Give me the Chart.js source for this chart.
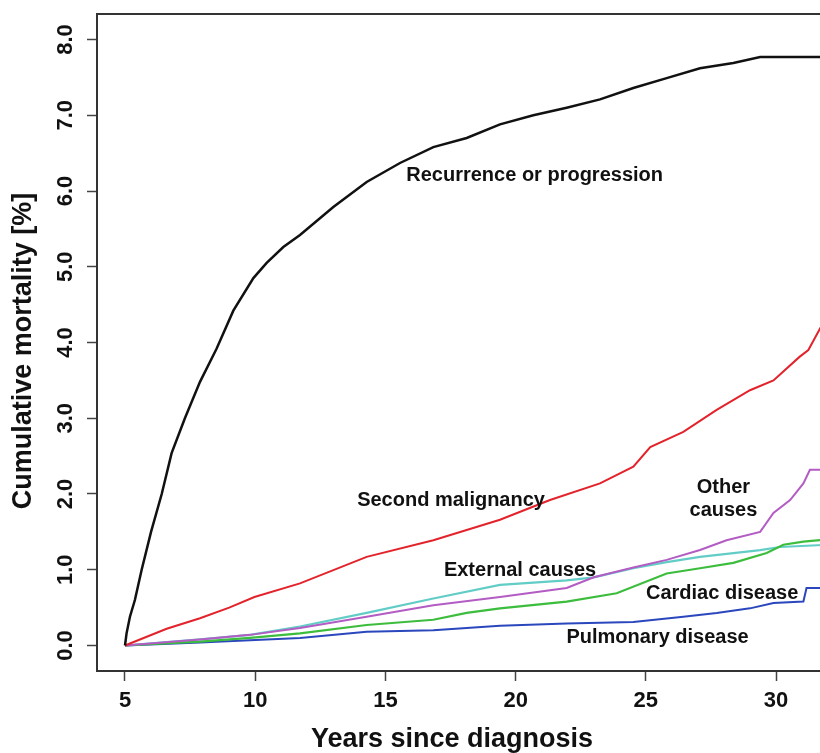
<!DOCTYPE html>
<html>
<head>
<meta charset="utf-8">
<script src="https://cdn.jsdelivr.net/npm/chart.js@4"></script>
<style>
  html, body { margin: 0; padding: 0; background: #fff; overflow: hidden; }
  canvas { display: block; }
</style>
</head>
<body>
<canvas id="mortalityChart" width="870" height="753"></canvas>
<script>
// Values (years since diagnosis, cumulative mortality %)
const recurrenceX = [5, 5.06, 5.19, 5.38, 5.64, 6.0, 6.41, 6.79, 7.3, 7.88, 8.52, 9.16, 9.93, 10.44, 11.08, 11.72, 13.0, 14.28, 15.56, 16.84, 18.12, 19.4, 20.68, 21.96, 23.24, 24.52, 25.8, 27.08, 28.36, 29.39, 32];
const recurrenceY = [0, 0.16, 0.38, 0.6, 1.0, 1.5, 2.0, 2.54, 3.0, 3.48, 3.92, 4.42, 4.85, 5.05, 5.26, 5.42, 5.79, 6.12, 6.37, 6.58, 6.7, 6.88, 7.0, 7.1, 7.21, 7.36, 7.49, 7.62, 7.69, 7.77, 7.77];

const secondX = [5, 6.6, 7.88, 9.0, 9.97, 11.72, 14.28, 16.84, 19.4, 21.32, 23.24, 24.52, 25.17, 26.44, 27.72, 29.0, 29.9, 30.9, 31.24, 31.7, 32];
const secondY = [0, 0.22, 0.36, 0.5, 0.64, 0.82, 1.17, 1.39, 1.66, 1.92, 2.14, 2.36, 2.62, 2.82, 3.11, 3.37, 3.5, 3.81, 3.9, 4.19, 4.19];

const otherX = [5, 7.88, 9.8, 11.72, 14.28, 16.84, 19.4, 21.96, 23.0, 24.52, 25.8, 27.08, 28.1, 29.39, 29.9, 30.54, 31.05, 31.3, 32];
const otherY = [0, 0.08, 0.14, 0.23, 0.38, 0.53, 0.64, 0.76, 0.9, 1.03, 1.13, 1.26, 1.39, 1.5, 1.75, 1.92, 2.14, 2.32, 2.32];

const externalX = [5, 7.88, 9.8, 11.72, 14.28, 16.84, 19.4, 21.96, 23.0, 24.52, 25.8, 27.08, 29.39, 30.15, 32];
const externalY = [0, 0.08, 0.14, 0.25, 0.43, 0.62, 0.8, 0.86, 0.9, 1.02, 1.1, 1.17, 1.26, 1.3, 1.33];

const cardiacX = [5, 7.88, 9.8, 11.72, 14.28, 16.84, 18.12, 19.4, 21.96, 23.88, 25.8, 27.08, 28.36, 29.64, 30.28, 31.05, 32];
const cardiacY = [0, 0.05, 0.1, 0.16, 0.27, 0.34, 0.43, 0.49, 0.58, 0.69, 0.95, 1.02, 1.09, 1.22, 1.33, 1.37, 1.4];

const pulmonaryX = [5, 7.88, 9.8, 11.72, 14.28, 16.84, 19.4, 21.96, 24.52, 26.44, 27.72, 29.0, 29.9, 31.05, 31.17, 32];
const pulmonaryY = [0, 0.04, 0.07, 0.1, 0.18, 0.2, 0.26, 0.29, 0.31, 0.38, 0.43, 0.49, 0.56, 0.58, 0.76, 0.76];

const xTicks = [5, 10, 15, 20, 25, 30];
const yTicks = [0, 1, 2, 3, 4, 5, 6, 7, 8];

// curve labels placed in data coordinates
const labelText = ['Recurrence or progression', 'Second malignancy', 'External causes', 'Other', 'causes', 'Cardiac disease', 'Pulmonary disease'];
const labelX = [20.73, 17.52, 20.17, 27.98, 27.98, 27.93, 25.45];
const labelY = [6.2, 1.92, 0.99, 2.09, 1.78, 0.69, 0.1];

const fontFamily = "'Liberation Sans', Arial, Helvetica, sans-serif";

function toPoints(xs, ys) {
  return xs.map((x, i) => ({ x: x, y: ys[i] }));
}

function series(data, color, width) {
  return {
    data: data,
    borderColor: color,
    borderWidth: width,
    pointRadius: 0,
    fill: false,
    tension: 0
  };
}

const extrasPlugin = {
  id: 'extras',
  afterDraw(chart) {
    const ctx = chart.ctx;
    const area = chart.chartArea;
    const xs = chart.scales.x;
    const ys = chart.scales.y;
    ctx.save();
    // box around plot region
    ctx.strokeStyle = '#333';
    ctx.lineWidth = 2;
    ctx.strokeRect(area.left, area.top, area.right - area.left, area.bottom - area.top);

    // curve labels
    ctx.fillStyle = '#111';
    ctx.font = 'bold 20px ' + fontFamily;
    ctx.textAlign = 'center';
    ctx.textBaseline = 'middle';
    labelText.forEach((t, i) => {
      ctx.fillText(t, xs.getPixelForValue(labelX[i]), ys.getPixelForValue(labelY[i]));
    });

    // axis titles
    ctx.font = 'bold 27px ' + fontFamily;
    ctx.textBaseline = 'alphabetic';
    ctx.fillText('Years since diagnosis', 452, 747);
    ctx.translate(31, 351);
    ctx.rotate(-Math.PI / 2);
    ctx.fillText('Cumulative mortality [%]', 0, 0);
    ctx.restore();
  }
};

const ctx = document.getElementById('mortalityChart').getContext('2d');
new Chart(ctx, {
  type: 'line',
  data: {
    datasets: [
      series(toPoints(recurrenceX, recurrenceY), '#111111', 2.5),
      series(toPoints(secondX, secondY), '#e3232b', 2),
      series(toPoints(otherX, otherY), '#b35cc4', 2),
      series(toPoints(cardiacX, cardiacY), '#3dbd3d', 2.2),
      series(toPoints(externalX, externalY), '#62cdc6', 2.2),
      series(toPoints(pulmonaryX, pulmonaryY), '#2b47bd', 2)
    ]
  },
  options: {
    responsive: false,
    animation: false,
    devicePixelRatio: 1,
    layout: { padding: { left: 0, top: 14, right: 14, bottom: 0 } },
    plugins: {
      legend: { display: false },
      tooltip: { enabled: false }
    },
    scales: {
      x: {
        type: 'linear',
        min: 3.925,
        max: 33.07,
        afterBuildTicks: (s) => { s.ticks = xTicks.map(v => ({ value: v })); },
        afterFit: (s) => { s.height = 82; s.paddingLeft = 0; s.paddingRight = 0; },
        ticks: {
          autoSkip: false,
          maxRotation: 0,
          padding: 7,
          color: '#111',
          font: { family: fontFamily, size: 22, weight: 'bold' }
        },
        grid: { drawOnChartArea: false, tickLength: 10, tickColor: '#444', tickWidth: 1.5 },
        border: { display: false }
      },
      y: {
        type: 'linear',
        min: -0.337,
        max: 8.337,
        afterBuildTicks: (s) => { s.ticks = yTicks.map(v => ({ value: v })); },
        afterFit: (s) => { s.width = 97; s.paddingTop = 0; s.paddingBottom = 0; },
        ticks: {
          autoSkip: false,
          minRotation: 90,
          maxRotation: 90,
          crossAlign: 'center',
          padding: 6,
          color: '#111',
          font: { family: fontFamily, size: 22, weight: 'bold' },
          callback: (v) => Number(v).toFixed(1)
        },
        grid: { drawOnChartArea: false, tickLength: 10, tickColor: '#444', tickWidth: 1.5 },
        border: { display: false }
      }
    }
  },
  plugins: [extrasPlugin]
});
</script>
</body>
</html>
